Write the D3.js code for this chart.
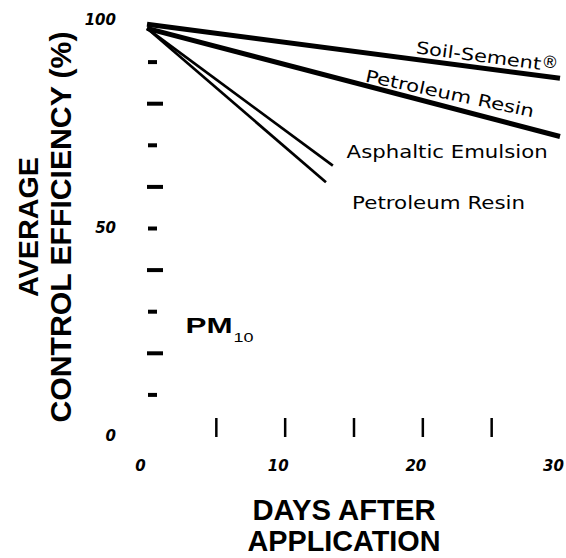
<!DOCTYPE html>
<html>
<head>
<meta charset="utf-8">
<script src="https://cdn.jsdelivr.net/npm/d3@7"></script>
<style>
  body { margin: 0; background: #fff; }
  svg { display: block; }
  .tick-lbl { font-family: "DejaVu Sans", sans-serif; font-weight: bold; font-style: italic; font-size: 15px; }
  .ann { font-family: "DejaVu Sans", sans-serif; font-size: 17px; fill: #000; }
  .title { font-family: "Liberation Sans", Arial, sans-serif; font-weight: bold; fill: #000; }
</style>
</head>
<body>
<div id="chart"></div>
<script>
// days after application / average control efficiency (%)
const soilDays = [0, 30];
const soilValues = [99, 86];
const resinDays = [0, 30];
const resinValues = [98, 72];
const asphaltDays = [0, 13.5];
const asphaltValues = [98, 65];
const resin2Days = [0, 13];
const resin2Values = [98, 61];

const xTickMarks = [5, 10, 15, 20, 25];
const xTickLabels = [0, 10, 20, 30];
const yTickMarks = [10, 20, 30, 40, 50, 60, 70, 80, 90];
const yTickLabels = [0, 50, 100];

const width = 566, height = 558;

const svg = d3.select("#chart")
  .append("svg")
  .attr("width", width)
  .attr("height", height);

const x = d3.scaleLinear().domain([0, 30]).range([147, 560]);
const y = d3.scaleLinear().domain([0, 100]).range([436, 20]);

// y tick marks (alternating long / short)
const yMarks = svg.append("g")
  .attr("transform", "translate(147,0)")
  .call(d3.axisRight(y).tickValues(yTickMarks).tickSize(16).tickFormat(""));
yMarks.select(".domain").remove();
yMarks.selectAll(".tick line")
  .attr("stroke", "#000")
  .attr("stroke-width", 4)
  .attr("x1", d => d % 20 === 0 ? 0 : 1)
  .attr("x2", d => d % 20 === 0 ? 16 : 10);

const yLbl = svg.append("g")
  .attr("transform", "translate(116,0)")
  .call(d3.axisLeft(y).tickValues(yTickLabels).tickSize(0).tickPadding(0));
yLbl.select(".domain").remove();
yLbl.selectAll("text").attr("class", "tick-lbl").attr("fill", "#000");

// x tick marks
const xMarks = svg.append("g")
  .attr("transform", "translate(0,418)")
  .call(d3.axisBottom(x).tickValues(xTickMarks).tickSize(19).tickFormat(""));
xMarks.select(".domain").remove();
xMarks.selectAll(".tick line").attr("stroke", "#000").attr("stroke-width", 2.5);

const xLbl = svg.append("g")
  .attr("transform", "translate(0,460)")
  .call(d3.axisBottom(x).tickValues(xTickLabels).tickSize(0).tickPadding(0));
xLbl.select(".domain").remove();
xLbl.selectAll("text").attr("class", "tick-lbl").attr("fill", "#000").attr("dx", -7);

// lines
const line = d3.line().x(d => x(d[0])).y(d => y(d[1]));
const series = [
  { days: soilDays, values: soilValues, w: 5 },
  { days: resinDays, values: resinValues, w: 5 },
  { days: asphaltDays, values: asphaltValues, w: 2.7 },
  { days: resin2Days, values: resin2Values, w: 2.7 }
];
svg.append("g")
  .selectAll("path")
  .data(series)
  .join("path")
  .attr("d", s => line(d3.zip(s.days, s.values)))
  .attr("fill", "none")
  .attr("stroke", "#000")
  .attr("stroke-width", s => s.w)
  .attr("stroke-linejoin", "miter");

// annotations (anchored in data units)
const soilLbl = svg.append("g")
  .attr("transform", `translate(${x(19.5)},${y(92)}) rotate(7.5)`);
soilLbl.append("text")
  .attr("class", "ann")
  .attr("textLength", 126)
  .attr("lengthAdjust", "spacingAndGlyphs")
  .text("Soil-Sement");
soilLbl.append("text")
  .attr("class", "ann")
  .attr("x", 126).attr("y", -3)
  .attr("font-size", 12)
  .text("®");

svg.append("text")
  .attr("class", "ann")
  .attr("transform", `translate(${x(15.8)},${y(85.2)}) rotate(12)`)
  .attr("textLength", 172)
  .attr("lengthAdjust", "spacingAndGlyphs")
  .text("Petroleum Resin");

svg.append("text")
  .attr("class", "ann")
  .attr("x", x(14.5)).attr("y", y(66.8))
  .attr("textLength", 201)
  .attr("lengthAdjust", "spacingAndGlyphs")
  .text("Asphaltic Emulsion");

svg.append("text")
  .attr("class", "ann")
  .attr("x", x(14.9)).attr("y", y(54.5))
  .attr("textLength", 173)
  .attr("lengthAdjust", "spacingAndGlyphs")
  .text("Petroleum Resin");

svg.append("text")
  .attr("x", x(2.8)).attr("y", y(24.8))
  .attr("font-family", "Liberation Sans, Arial, sans-serif")
  .attr("font-weight", "bold")
  .attr("font-size", 22)
  .attr("textLength", 47)
  .attr("lengthAdjust", "spacingAndGlyphs")
  .text("PM");
svg.append("text")
  .attr("x", x(2.8) + 48).attr("y", y(24.8) + 9)
  .attr("font-family", "Liberation Sans, Arial, sans-serif")
  .attr("font-size", 13)
  .attr("textLength", 20)
  .attr("lengthAdjust", "spacingAndGlyphs")
  .text("10");

// axis titles
svg.append("text")
  .attr("class", "title")
  .attr("transform", "translate(38,227) rotate(-90)")
  .attr("text-anchor", "middle")
  .attr("font-size", 27)
  .attr("textLength", 140)
  .attr("lengthAdjust", "spacingAndGlyphs")
  .text("AVERAGE");

svg.append("text")
  .attr("class", "title")
  .attr("transform", "translate(71,227) rotate(-90)")
  .attr("text-anchor", "middle")
  .attr("font-size", 29)
  .attr("textLength", 391)
  .attr("lengthAdjust", "spacingAndGlyphs")
  .text("CONTROL EFFICIENCY (%)");

svg.append("text")
  .attr("class", "title")
  .attr("x", 344).attr("y", 520)
  .attr("text-anchor", "middle")
  .attr("font-size", 30)
  .attr("textLength", 183)
  .attr("lengthAdjust", "spacingAndGlyphs")
  .text("DAYS AFTER");

svg.append("text")
  .attr("class", "title")
  .attr("x", 344).attr("y", 551)
  .attr("text-anchor", "middle")
  .attr("font-size", 30)
  .attr("textLength", 193)
  .attr("lengthAdjust", "spacingAndGlyphs")
  .text("APPLICATION");
</script>
</body>
</html>
